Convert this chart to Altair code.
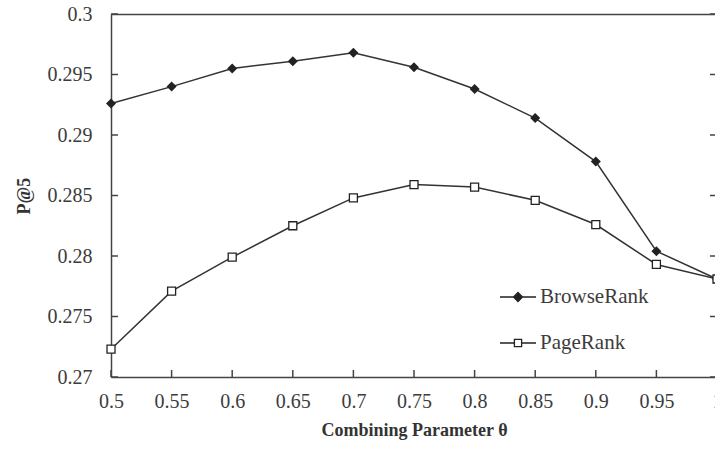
import altair as alt
import pandas as pd

# Combining parameter values and P@5 for each ranking method
theta = [0.5, 0.55, 0.6, 0.65, 0.7, 0.75, 0.8, 0.85, 0.9, 0.95, 1.0]
browse_rank = [0.2926, 0.2940, 0.2955, 0.2961, 0.2968, 0.2956, 0.2938, 0.2914, 0.2878, 0.2804, 0.2781]
page_rank = [0.2723, 0.2771, 0.2799, 0.2825, 0.2848, 0.2859, 0.2857, 0.2846, 0.2826, 0.2793, 0.2781]
series_names = ["BrowseRank", "PageRank"]
y_ticks = [0.27, 0.275, 0.28, 0.285, 0.29, 0.295, 0.3]

rows = []
for name, values in zip(series_names, [browse_rank, page_rank]):
    for t, v in zip(theta, values):
        rows.append({"theta": t, "p5": v, "series": name})
df = pd.DataFrame(rows)
x_tick_df = pd.DataFrame({"theta": theta})
y_tick_df = pd.DataFrame({"p5": y_ticks})

W, H = 604, 363      # visible plot area
X_SPAN = 606         # x range runs slightly past the right edge
TICK = 7             # inward tick length

FONT = "Liberation Serif"
INK = "#333333"
AXIS = "#444444"
TEXT = "#3c3c3c"

x_scale = alt.Scale(domain=[0.5, 1.0], range=[0, X_SPAN], nice=False, zero=False)
y_scale = alt.Scale(domain=[0.27, 0.30], nice=False, zero=False)

# legend keys: a short line through the marker
diamond_key = "M-1,0H1M0,-0.25L0.25,0L0,0.25L-0.25,0Z"
square_key = "M-1,0H-0.2M0.2,0H1M-0.2,-0.2H0.2V0.2H-0.2Z"

base = alt.Chart(df)

# main axes with labels and titles
lines = base.mark_line(color=INK, strokeWidth=1.5).encode(
    x=alt.X("theta:Q", scale=x_scale, axis=alt.Axis(
        orient="bottom", values=theta, format="~g", ticks=False, grid=False,
        domainColor=AXIS, domainWidth=1.5, labelFlush=False, labelOverlap=False,
        labelFont=FONT, labelFontSize=20, labelColor=TEXT, labelPadding=14,
        title="Combining Parameter θ", titleFont=FONT, titleFontSize=18,
        titleColor=INK, titlePadding=10)),
    y=alt.Y("p5:Q", scale=y_scale, axis=alt.Axis(
        orient="left", values=y_ticks, format="~g", ticks=False, grid=False,
        domainColor=AXIS, domainWidth=1.5, labelFlush=False, labelOverlap=False,
        labelFont=FONT, labelFontSize=20, labelColor=TEXT, labelPadding=19,
        title="P@5", titleFont=FONT, titleFontSize=18,
        titleColor=INK, titlePadding=14)),
    detail="series:N",
)

# top frame line drawn as a domain-only axis
browse_pts = base.transform_filter(alt.datum.series == "BrowseRank").mark_point(
    shape="diamond", filled=True, color="#222222", size=100, opacity=1
).encode(
    x=alt.X("theta:Q", scale=x_scale, axis=alt.Axis(
        orient="top", values=theta, labels=False, domain=True, domainColor=AXIS,
        domainWidth=1.5, grid=False, ticks=False, title=None)),
    y=alt.Y("p5:Q", scale=y_scale, axis=None),
)

page_pts = base.transform_filter(alt.datum.series == "PageRank").mark_point(
    shape="square", filled=False, color="#222222", fill="#ffffff", size=64,
    strokeWidth=1.3, opacity=1
).encode(
    x=alt.X("theta:Q", scale=x_scale, axis=None),
    y=alt.Y("p5:Q", scale=y_scale, axis=None),
)

# inward tick marks: bottom edge, left edge, right edge
tick_style = dict(color=AXIS, strokeWidth=1.5)
bottom_ticks = alt.Chart(x_tick_df).mark_rule(**tick_style).encode(
    x=alt.X("theta:Q", scale=x_scale, axis=None),
    y=alt.value(H), y2=alt.value(H - TICK),
)
left_ticks = alt.Chart(y_tick_df).mark_rule(**tick_style).encode(
    y=alt.Y("p5:Q", scale=y_scale, axis=None),
    x=alt.value(0), x2=alt.value(TICK),
)
right_ticks = alt.Chart(y_tick_df).mark_rule(**tick_style).encode(
    y=alt.Y("p5:Q", scale=y_scale, axis=None),
    x=alt.value(X_SPAN - TICK), x2=alt.value(X_SPAN),
)

legend = alt.Legend(
    orient="none", legendX=388, legendY=264, title=None,
    labelFont=FONT, labelFontSize=21, labelColor=TEXT, labelOffset=3,
    symbolSize=1296, symbolStrokeWidth=1.3, rowPadding=17,
)

key = base.transform_filter("false").mark_point(
    color="#222222", strokeWidth=1.3, opacity=1
).encode(
    shape=alt.Shape("series:N", scale=alt.Scale(domain=series_names, range=[diamond_key, square_key]), legend=legend),
    fill=alt.Fill("series:N", scale=alt.Scale(domain=series_names, range=["#222222", "#ffffff"]), legend=legend),
    stroke=alt.Stroke("series:N", scale=alt.Scale(domain=series_names, range=["#222222", "#222222"]), legend=legend),
)

chart = alt.layer(
    lines, browse_pts, page_pts, key, bottom_ticks, left_ticks, right_ticks
).resolve_axis(
    x="independent", y="independent"
).properties(
    width=W, height=H,
    autosize=alt.AutoSizeParams(type="none"),
    padding={"left": 111, "top": 14, "right": 0, "bottom": 76},
    background="#ffffff",
    view=alt.ViewBackground(stroke="transparent"),
)

chart.save("out.html", embed_options={"renderer": "svg", "actions": False})
